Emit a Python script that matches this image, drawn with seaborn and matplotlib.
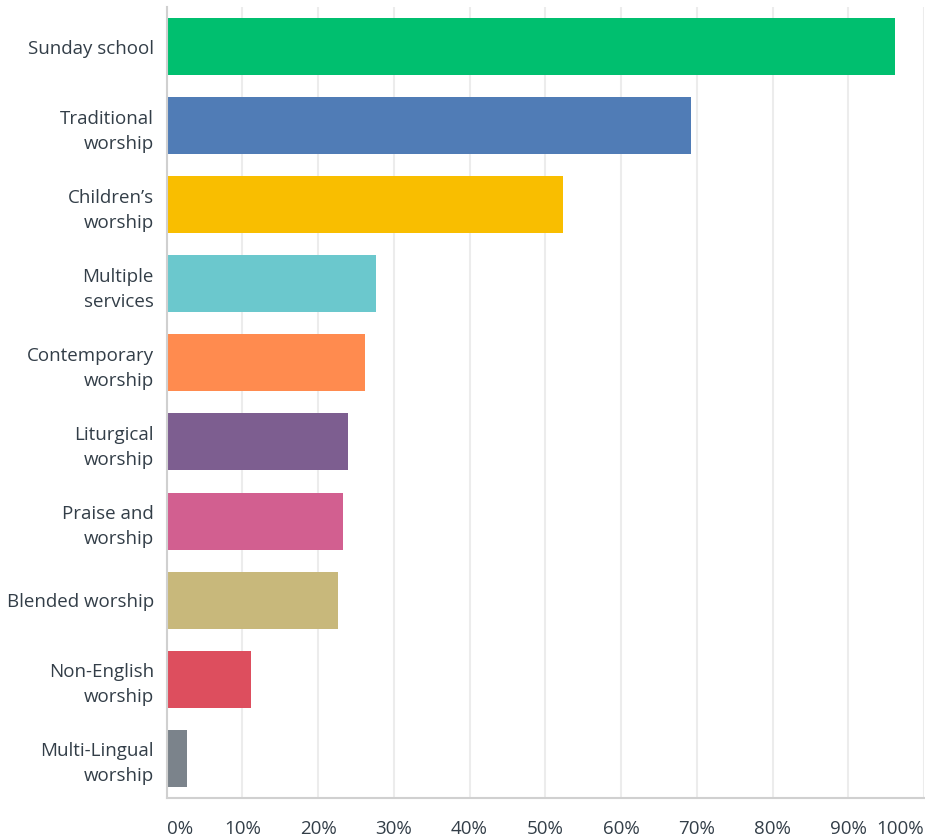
import matplotlib
matplotlib.use("Agg")
import matplotlib.pyplot as plt
import seaborn as sns
import pandas as pd

# Data
categories = ["Sunday school", "Traditional\nworship", "Children\u2019s\nworship",
              "Multiple\nservices", "Contemporary\nworship", "Liturgical\nworship",
              "Praise and\nworship", "Blended worship", "Non-English\nworship",
              "Multi-Lingual\nworship"]
percents = [96.2, 69.2, 52.4, 27.7, 26.2, 24.0, 23.3, 22.6, 11.2, 2.7]
bar_colors = ["#00bf6f", "#507cb6", "#f9be00", "#6bc8cd", "#ff8b4f",
              "#7d5e90", "#d25f90", "#c8b87b", "#dd4e5e", "#7b838b"]
x_ticks = list(range(0, 101, 10))
x_tick_labels = [f"{t}%" for t in x_ticks]

sns.set_style("white")
plt.rcParams["font.family"] = ["Open Sans", "DejaVu Sans"]
text_color = "#333e48"

df = pd.DataFrame({"category": categories, "percent": percents})

fig = plt.figure(figsize=(9.25, 8.39), dpi=100)
ax = fig.add_axes([0.18, 0.049, 0.819, 0.9427])

sns.barplot(data=df, y="category", x="percent", hue="category",
            palette=bar_colors, orient="h", width=0.72, legend=False,
            saturation=1, linewidth=0, ax=ax)

ax.set_xlim(0, 100)
ax.set_ylim(len(categories) - 0.5, -0.5)
ax.set_xlabel("")
ax.set_ylabel("")

ax.set_xticks(x_ticks)
ax.set_xticklabels(x_tick_labels, fontsize=13.5, color=text_color)
xl = ax.get_xticklabels()
xl[0].set_horizontalalignment("left")
xl[-1].set_horizontalalignment("right")
ax.tick_params(axis="x", length=0, pad=16)
ax.tick_params(axis="y", length=0, pad=9)
for lab in ax.get_yticklabels():
    lab.set_fontsize(13.5)
    lab.set_color(text_color)
    lab.set_linespacing(1.5)

ax.xaxis.grid(True, color="#ececec", linewidth=1.5)
ax.set_axisbelow(True)
for side in ["top", "right"]:
    ax.spines[side].set_visible(False)
ax.spines["left"].set_color("#d0d0d0")
ax.spines["left"].set_linewidth(1.5)
ax.spines["bottom"].set_color("#d0d0d0")
ax.spines["bottom"].set_linewidth(1.5)

fig.savefig("out.png", dpi=100)
